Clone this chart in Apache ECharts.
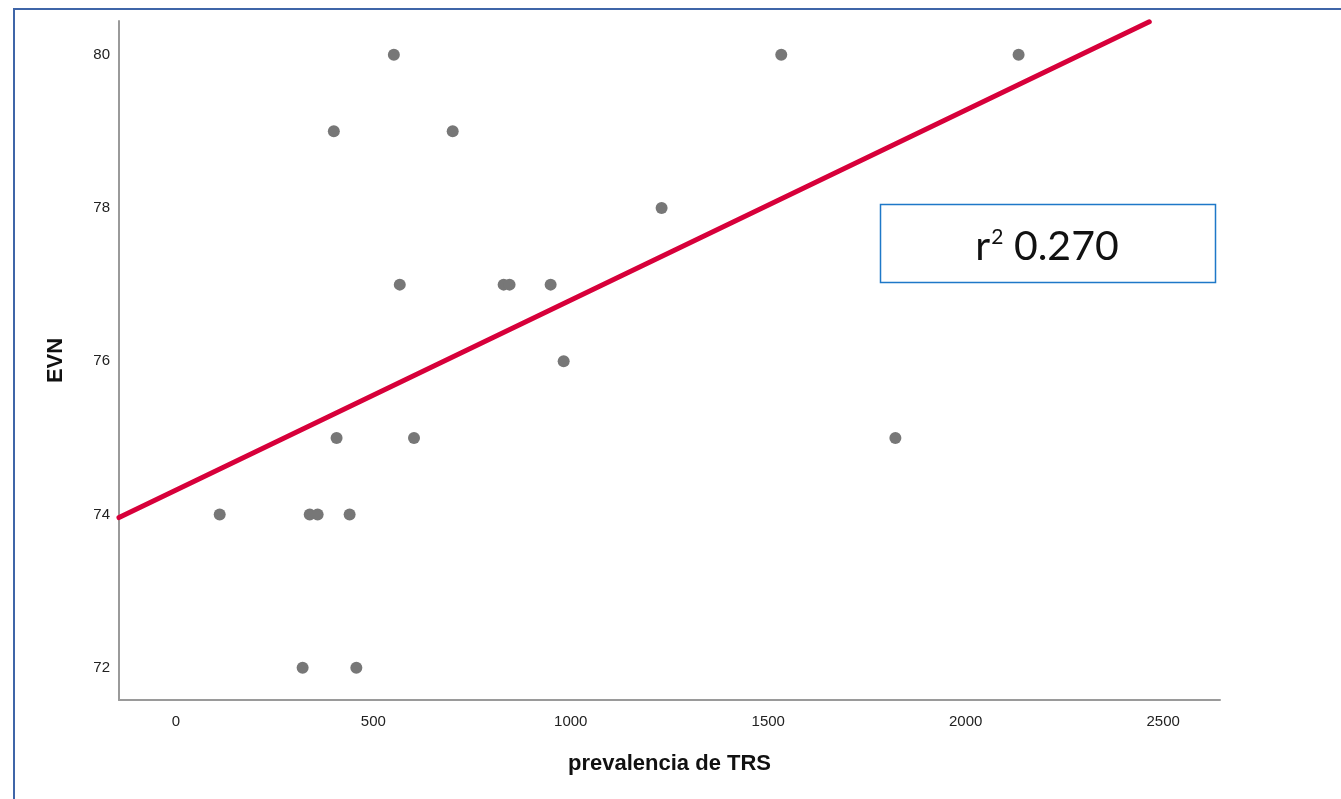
<!DOCTYPE html>
<html>
<head>
<meta charset="utf-8">
<script src="https://cdn.jsdelivr.net/npm/echarts@6/dist/echarts.min.js"></script>
<style>
  html, body { margin: 0; padding: 0; background: #ffffff; }
  #chart { width: 1341px; height: 799px; }
</style>
</head>
<body>
<div id="chart"></div>
<script>
// Data
const prevalenciaTRS = [111, 321, 339, 359, 400, 407, 440, 457, 552, 567, 603, 701, 830, 845, 949, 982, 1230, 1533, 1822, 2134];
const evn            = [74,  72,  74,  74,  79,  75,  74,  72,  80,  77,  75,  79,  77,  77,  77,  76,  78,  80,  75,  80];
const fitX = [-144, 2465];
const fitY = [73.96, 80.43];
const xTicks = [0, 500, 1000, 1500, 2000, 2500];
const yTicks = [72, 74, 76, 78, 80];
const r2Text = '0.270';

const points = prevalenciaTRS.map((x, i) => [x, evn[i]]);
const fitLine = fitX.map((x, i) => [x, fitY[i]]);

const chart = echarts.init(document.getElementById('chart'), null, { renderer: 'canvas' });
chart.setOption({
  animation: false,
  backgroundColor: '#ffffff',
  grid: { left: 119, right: 121, top: 21, bottom: 99, containLabel: false },
  xAxis: {
    type: 'value',
    min: -144,
    max: 2644,
    name: 'prevalencia de TRS',
    nameLocation: 'middle',
    nameGap: 53,
    nameTextStyle: { fontFamily: 'Liberation Sans', fontWeight: 'bold', fontSize: 22, color: '#111' },
    axisLine: { show: true, onZero: false, lineStyle: { color: '#9a9a9a', width: 2 } },
    axisTick: { show: false },
    splitLine: { show: false },
    axisLabel: {
      customValues: xTicks,
      formatter: v => String(v),
      margin: 14,
      fontFamily: 'Liberation Sans',
      fontSize: 15,
      color: '#222'
    }
  },
  yAxis: {
    type: 'value',
    min: 71.58,
    max: 80.44,
    name: 'EVN',
    nameLocation: 'middle',
    nameGap: 52,
    nameRotate: 90,
    nameTextStyle: { fontFamily: 'Liberation Sans', fontWeight: 'bold', fontSize: 22, color: '#111' },
    axisLine: { show: true, onZero: false, lineStyle: { color: '#9a9a9a', width: 2 } },
    axisTick: { show: false },
    splitLine: { show: false },
    axisLabel: {
      customValues: yTicks,
      formatter: v => String(v),
      margin: 9,
      fontFamily: 'Liberation Sans',
      fontSize: 15,
      color: '#222'
    }
  },
  series: [
    {
      type: 'line',
      data: fitLine,
      symbol: 'none',
      lineStyle: { color: '#d7003a', width: 5, cap: 'round' },
      z: 2,
      silent: true
    },
    {
      type: 'scatter',
      data: points,
      symbol: 'circle',
      symbolSize: 12,
      itemStyle: { color: '#777777', opacity: 1 },
      z: 3
    }
  ],
  graphic: [
    {
      type: 'rect',
      shape: { x: 14, y: 9, width: 1400, height: 900 },
      style: { fill: 'none', stroke: '#3f65a8', lineWidth: 2 },
      silent: true
    },
    {
      type: 'rect',
      shape: { x: 880.5, y: 204.5, width: 335, height: 78 },
      style: { fill: '#ffffff', stroke: '#1e78c8', lineWidth: 1.5 },
      z: 10
    },
    {
      type: 'text',
      x: 1047,
      y: 244,
      z: 11,
      style: {
        text: '{r|r}{s|2}{r| ' + r2Text + '}',
        align: 'center',
        verticalAlign: 'middle',
        rich: {
          r: { fontFamily: 'Lato', fontSize: 41, fill: '#111', verticalAlign: 'bottom', lineHeight: 46 },
          s: { fontFamily: 'Lato', fontSize: 21, fill: '#111', verticalAlign: 'top', lineHeight: 30, padding: [6, 0, 0, 1] }
        }
      }
    }
  ]
});
</script>
</body>
</html>
